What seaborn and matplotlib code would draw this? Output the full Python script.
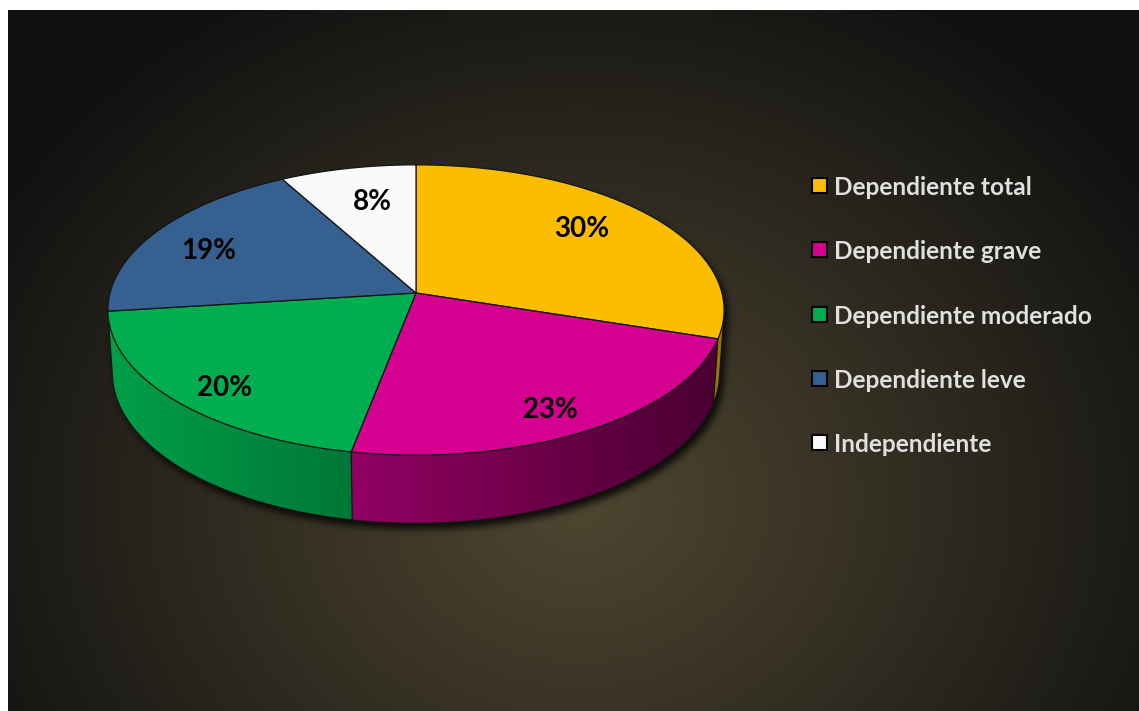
import numpy as np
import pandas as pd
import matplotlib
matplotlib.use("Agg")
import matplotlib.pyplot as plt
from matplotlib.path import Path
from matplotlib.patches import Polygon, Rectangle
import seaborn as sns

# ---- data -------------------------------------------------------------
categories = ["Dependiente total", "Dependiente grave", "Dependiente moderado",
              "Dependiente leve", "Independiente"]
values = [30, 23, 20, 19, 8]
colors_hex = ["#fbbd00", "#d4008f", "#00ad4f", "#35608f", "#fafafa"]

# label anchor points (pixel x centre, baseline y)
label_pos = [(582, 237), (550, 418), (225, 396), (209, 259), (372, 210)]

sns.set_theme(style="white")
plt.rcParams["font.family"] = ["Lato", "DejaVu Sans"]

df = pd.DataFrame({"categoria": categories, "valor": values})
df["frac"] = df["valor"] / df["valor"].sum()
df["t1"] = 360 * df["frac"].cumsum()
df["t0"] = df["t1"] - 360 * df["frac"]
palette = sns.color_palette(colors_hex)

W, H = 1139, 711
fig = plt.figure(figsize=(W / 100, H / 100), dpi=100, facecolor="white")
ax = fig.add_axes([0, 0, 1, 1])
ax.set_xlim(0, W)
ax.set_ylim(H, 0)
ax.axis("off")

# ---- radial background --------------------------------------------------
bx0, by0 = 8, 10
yy, xx = np.mgrid[0:H, 0:W] + 0.5
d = np.sqrt(((xx - 580) / 680) ** 2 + ((yy - 500) / 580) ** 2)
t = np.clip(d, 0, 1) ** 1.05
c_in = np.array([0x4e, 0x46, 0x30]) / 255
c_out = np.array([0x11, 0x11, 0x11]) / 255
bg = c_in[None, None, :] * (1 - t[..., None]) + c_out[None, None, :] * t[..., None]
bg_rgba = np.concatenate([bg, np.ones((H, W, 1))], axis=2)
bg_rgba[:by0, :, :3] = 1.0
bg_rgba[:, :bx0, :3] = 1.0
ax.imshow(bg_rgba, extent=(0, W, H, 0), interpolation="nearest", zorder=0)

# ---- perspective projection of the pie disc -----------------------------
elev = np.radians(27.9)
ce, se = np.cos(elev), np.sin(elev)
Dist, Foc = 7.54, 2307.0
cx, cy = 416.0, 293.0
thick = 0.235


def proj(th_deg, r=1.0, z=0.0):
    th = np.radians(th_deg)
    X = r * np.sin(th)
    Y = r * np.cos(th)
    depth = Dist + Y * ce - z * se
    v = Y * se + z * ce
    return cx + Foc * X / depth, cy - Foc * v / depth


# visible part of the side wall
tv0 = np.degrees(np.arccos(-1.0 / (Dist * ce)))
tv1 = 360 - tv0
xl, _ = proj(tv1)
xr, _ = proj(tv0)

# ---- soft drop shadow ---------------------------------------------------
back = np.linspace(tv1, tv0 + 360, 400)
front = np.linspace(tv0, tv1, 300)
sx1, sy1 = proj(back)
sx2, sy2 = proj(front, z=-thick)
outline = np.column_stack([np.r_[sx1, sx2], np.r_[sy1, sy2]])
shadow_path = Path(outline + np.array([4.0, 6.0]))
mask = shadow_path.contains_points(np.column_stack([xx.ravel(), yy.ravel()]))
mask = mask.reshape(H, W).astype(float)


def box_blur(a, r):
    k = 2 * r + 1
    p = np.pad(a, ((0, 0), (r + 1, r)), mode="edge")
    cs = np.cumsum(p, axis=1)
    a = (cs[:, k:] - cs[:, :-k]) / k
    p = np.pad(a, ((r + 1, r), (0, 0)), mode="edge")
    cs = np.cumsum(p, axis=0)
    return (cs[k:, :] - cs[:-k, :]) / k


for _ in range(3):
    mask = box_blur(mask, 3)
shadow = np.zeros((H, W, 4))
shadow[..., 3] = mask * 0.8
ax.imshow(shadow, extent=(0, W, H, 0), interpolation="nearest", zorder=1)

edge_c = "#141414"

# ---- side walls (horizontal light-to-dark shading) ----------------------
for i, row in df.iterrows():
    a, b = max(row["t0"], tv0), min(row["t1"], tv1)
    if a >= b:
        continue
    base = np.array(palette[i])
    ths = np.linspace(a, b, 120)
    tx, ty = proj(ths)
    bxs, bys = proj(ths[::-1], z=-thick)
    poly = Polygon(np.column_stack([np.r_[tx, bxs], np.r_[ty, bys]]),
                   closed=True, facecolor="none", edgecolor="none", zorder=2)
    ax.add_patch(poly)
    x_lo, x_hi = np.floor(min(tx.min(), bxs.min())) - 1, np.ceil(max(tx.max(), bxs.max())) + 1
    y_lo, y_hi = np.floor(min(ty.min(), bys.min())) - 1, np.ceil(max(ty.max(), bys.max())) + 1
    ncol = int(x_hi - x_lo) * 2
    gx = np.linspace(x_lo, x_hi, ncol)
    u = (gx - xl) / (xr - xl)
    f = 0.92 - 0.58 * u
    if i == 0:
        f = np.full_like(gx, 0.62)
    grad = np.clip(base[None, :] * f[:, None], 0, 1)[None, :, :]
    im = ax.imshow(grad, extent=(x_lo, x_hi, y_hi, y_lo), aspect="auto",
                   interpolation="bilinear", zorder=2)
    im.set_clip_path(poly)

# wall outlines
bx, by = proj(front, z=-thick)
ax.plot(bx, by, color=edge_c, lw=0.9, zorder=2.5)
for th in [tv0, tv1] + [v for v in df["t0"] if tv0 < v < tv1]:
    x1, y1 = proj(th)
    x2, y2 = proj(th, z=-thick)
    ax.plot([x1, x2], [y1, y2], color=edge_c, lw=0.9, zorder=2.5)

# ---- top faces ----------------------------------------------------------
for i, row in df.iterrows():
    ths = np.linspace(row["t0"], row["t1"], 200)
    px, py = proj(ths)
    pts = np.column_stack([np.r_[cx, px], np.r_[cy, py]])
    ax.add_patch(Polygon(pts, closed=True, facecolor=palette[i],
                         edgecolor=edge_c, linewidth=0.9, zorder=3))

# ---- value labels -------------------------------------------------------
for (lx, ly), v in zip(label_pos, df["valor"]):
    ax.text(lx, ly, f"{v}%", ha="center", va="baseline", fontsize=20,
            fontweight="bold", color="black", zorder=5)

# ---- legend -------------------------------------------------------------
leg_x, leg_y0, leg_dy = 812, 186, 64.25
for i, name in enumerate(df["categoria"]):
    y = leg_y0 + i * leg_dy
    ax.add_patch(Rectangle((leg_x, y - 8), 15, 15, facecolor=palette[i],
                           edgecolor="black", linewidth=1.5, zorder=5))
    ax.text(leg_x + 22, y + 9, name, ha="left", va="baseline", fontsize=17.6,
            fontweight="bold", color="#e0e0e0", zorder=5)

fig.savefig("out.png", dpi=100, facecolor="white")
